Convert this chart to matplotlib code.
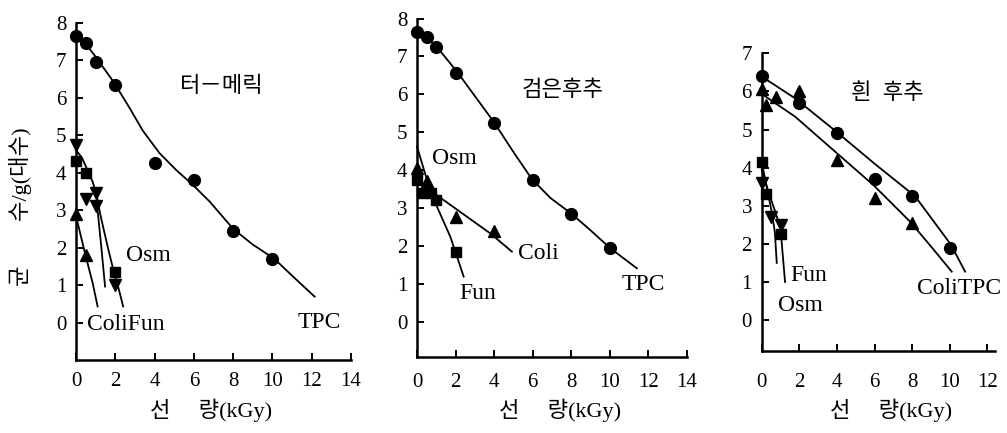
import matplotlib
matplotlib.use("Agg")
import matplotlib.pyplot as plt

W, H = 1007, 433
plt.rcParams["font.family"] = ["Liberation Serif", "Noto Sans CJK KR"]

# ---- 터-메릭 (turmeric) ----
tur_tpc_dose = [0, 0.5, 1, 2, 4, 6, 8, 10]
tur_tpc_log  = [7.65, 7.45, 6.95, 6.35, 4.25, 3.8, 2.45, 1.7]
tur_sq_dose  = [0, 0.5, 2]
tur_sq_log   = [4.3, 4.0, 1.35]
tur_dn_dose  = [0, 0.5, 1, 1, 2]
tur_dn_log   = [4.75, 3.3, 3.45, 3.1, 1.0]
tur_up_dose  = [0, 0.5]
tur_up_log   = [2.9, 1.8]
# fitted survival curves
tur_tpc_fit_x = [0, 0.35, 1.0, 1.9, 2.7, 3.4, 4.25, 5.1, 5.95, 6.8, 8.0, 9.0, 10.1, 11.0, 12.15]
tur_tpc_fit_y = [7.65, 7.54, 7.09, 6.43, 5.75, 5.12, 4.52, 4.07, 3.67, 3.23, 2.5, 2.08, 1.7, 1.25, 0.69]
tur_osm_fit_x = [0, 0.3, 0.6, 0.85, 1.05, 1.25, 1.6, 1.95, 2.15, 2.4]
tur_osm_fit_y = [4.6, 4.4, 4.05, 3.75, 3.4, 2.85, 2.05, 1.3, 0.95, 0.43]
tur_fun_fit_x = [1.1, 1.3, 1.48]
tur_fun_fit_y = [3.0, 1.95, 0.96]
tur_coli_fit_x = [0, 0.25, 0.5, 0.85, 1.1]
tur_coli_fit_y = [2.85, 2.3, 1.76, 1.05, 0.43]

# ---- 검은후추 (black pepper) ----
blk_tpc_dose = [0, 0.5, 1, 2, 4, 6, 8, 10]
blk_tpc_log  = [7.65, 7.5, 7.25, 6.55, 5.25, 3.75, 2.85, 1.95]
blk_up_dose  = [0, 0.5, 2, 4]
blk_up_log   = [4.05, 3.7, 2.75, 2.4]
blk_sq_dose  = [0, 0.25, 0.75, 1, 2]
blk_sq_log   = [3.75, 3.4, 3.4, 3.2, 1.85]
blk_tpc_fit_x = [0, 0.95, 2.07, 3.02, 3.97, 5.01, 5.96, 6.91, 8.03, 8.98, 10.02, 11.4]
blk_tpc_fit_y = [7.7, 7.3, 6.6, 5.94, 5.28, 4.47, 3.76, 3.27, 2.84, 2.42, 1.94, 1.41]
blk_coli_fit_x = [0.3, 1.38, 2.59, 3.8, 4.92]
blk_coli_fit_y = [3.6, 3.21, 2.77, 2.33, 1.85]
blk_fun_fit_x = [0, 0.52, 1.04, 1.73, 2.42]
blk_fun_fit_y = [4.62, 3.74, 3.03, 2.24, 1.19]

# ---- 흰 후추 (white pepper) ----
wht_tpc_dose  = [0, 2, 4, 6, 8, 10]
wht_tpc_log   = [6.4, 5.7, 4.9, 3.7, 3.25, 1.9]
wht_coli_dose = [0, 0.25, 0.75, 2, 4, 6, 8]
wht_coli_log  = [6.05, 5.65, 5.85, 6.0, 4.2, 3.2, 2.55]
wht_sq_dose   = [0, 0.25, 1]
wht_sq_log    = [4.15, 3.3, 2.25]
wht_dn_dose   = [0, 0.5, 1]
wht_dn_log    = [3.6, 2.7, 2.5]
wht_tpc_fit_x = [0, 1.77, 3.9, 6.03, 8.15, 9.2, 10.07, 10.81]
wht_tpc_fit_y = [6.39, 5.82, 4.97, 4.09, 3.25, 2.55, 1.97, 1.27]
wht_coli_fit_x = [0.1, 1.77, 3.9, 5.94, 7.89, 9.05, 10.1]
wht_coli_fit_y = [5.9, 5.34, 4.42, 3.54, 2.58, 1.9, 1.27]
wht_fun_fit_x = [0, 0.3, 0.55, 0.7, 0.8]
wht_fun_fit_y = [4.15, 3.4, 2.8, 2.3, 1.5]
wht_osm_fit_x = [0, 0.4, 0.75, 1.0, 1.24]
wht_osm_fit_y = [3.95, 3.3, 2.8, 2.4, 1.0]


def px_box(left, right, bottom, top):
    return [left / W, 1 - bottom / H, (right - left) / W, (bottom - top) / H]


def panel(fig, box, xmax, ymin, ymax, xpad):
    ax = fig.add_axes(box)
    ax.patch.set_visible(False)
    ax.set_xlim(0, xmax)
    ax.set_ylim(ymin, ymax)
    for s in ("top", "right"):
        ax.spines[s].set_visible(False)
    for s in ("left", "bottom"):
        ax.spines[s].set_linewidth(1.8)
    ax.set_xticks(range(0, int(xmax) + 1, 2))
    ax.set_yticks(range(0, int(ymax) + 1))
    ax.tick_params(direction="in", length=5, width=1.4, labelsize=15)
    ax.tick_params(axis="x", pad=xpad)
    ax.tick_params(axis="y", pad=7)
    return ax


def dots(ax, x, y, m, ms=8.5):
    ax.plot(x, y, ls="none", marker=m, ms=ms, color="black", clip_on=False, zorder=3)


def fit(ax, x, y):
    ax.plot(x, y, color="black", lw=1.3, clip_on=False, solid_joinstyle="round")


def label(ax, x, y, s, size=17):
    ax.text(x, y, s, ha="center", va="center", fontsize=size)


fig = plt.figure(figsize=(W / 100, H / 100), dpi=100)

# turmeric
ax = panel(fig, px_box(76, 351, 360, 22.7), 14, -1, 8, 9)
fit(ax, tur_tpc_fit_x, tur_tpc_fit_y)
fit(ax, tur_osm_fit_x, tur_osm_fit_y)
fit(ax, tur_fun_fit_x, tur_fun_fit_y)
fit(ax, tur_coli_fit_x, tur_coli_fit_y)
dots(ax, tur_tpc_dose, tur_tpc_log, "o")
dots(ax, tur_sq_dose, tur_sq_log, "s", 7)
dots(ax, tur_dn_dose, tur_dn_log, "v", 9)
dots(ax, tur_up_dose, tur_up_log, "^", 9)
label(ax, 7.4, 6.3, "터－메릭", 16)
label(ax, 3.7, 1.8, "Osm")
label(ax, 2.55, -0.05, "ColiFun")
label(ax, 12.4, 0.0, "TPC")

# black pepper
ax = panel(fig, px_box(417, 687, 356.6, 18.5), 14, -0.92, 8, 11.5)
fit(ax, blk_tpc_fit_x, blk_tpc_fit_y)
fit(ax, blk_coli_fit_x, blk_coli_fit_y)
fit(ax, blk_fun_fit_x, blk_fun_fit_y)
dots(ax, blk_tpc_dose, blk_tpc_log, "o")
dots(ax, blk_up_dose, blk_up_log, "^", 9)
dots(ax, blk_sq_dose, blk_sq_log, "s", 7)
label(ax, 7.55, 6.1, "검은후추", 16)
label(ax, 1.95, 4.3, "Osm")
label(ax, 6.3, 1.8, "Coli")
label(ax, 3.15, 0.75, "Fun")
label(ax, 11.75, 0.97, "TPC")

# white pepper
ax = panel(fig, px_box(761.7, 995, 350.5, 53.3), 12.4, -0.8, 7, 16)
fit(ax, wht_tpc_fit_x, wht_tpc_fit_y)
fit(ax, wht_coli_fit_x, wht_coli_fit_y)
fit(ax, wht_fun_fit_x, wht_fun_fit_y)
fit(ax, wht_osm_fit_x, wht_osm_fit_y)
dots(ax, wht_tpc_dose, wht_tpc_log, "o")
dots(ax, wht_coli_dose, wht_coli_log, "^", 9)
dots(ax, wht_sq_dose, wht_sq_log, "s", 7)
dots(ax, wht_dn_dose, wht_dn_log, "v", 9)
label(ax, 6.7, 5.95, "흰  후추", 16)
label(ax, 2.5, 1.18, "Fun")
label(ax, 2.05, 0.39, "Osm")
label(ax, 10.5, 0.83, "ColiTPC")

# shared axis titles
for cx in (211, 560, 891):
    fig.text(cx / W, 1 - 410 / H, "선     량(kGy)", ha="center", va="center", fontsize=16)
fig.text(20 / W, 1 - 207 / H, "균\u3000\u3000수/g(대수)", rotation=90,
         ha="center", va="center", fontsize=16)

fig.savefig("out.png", dpi=100)
